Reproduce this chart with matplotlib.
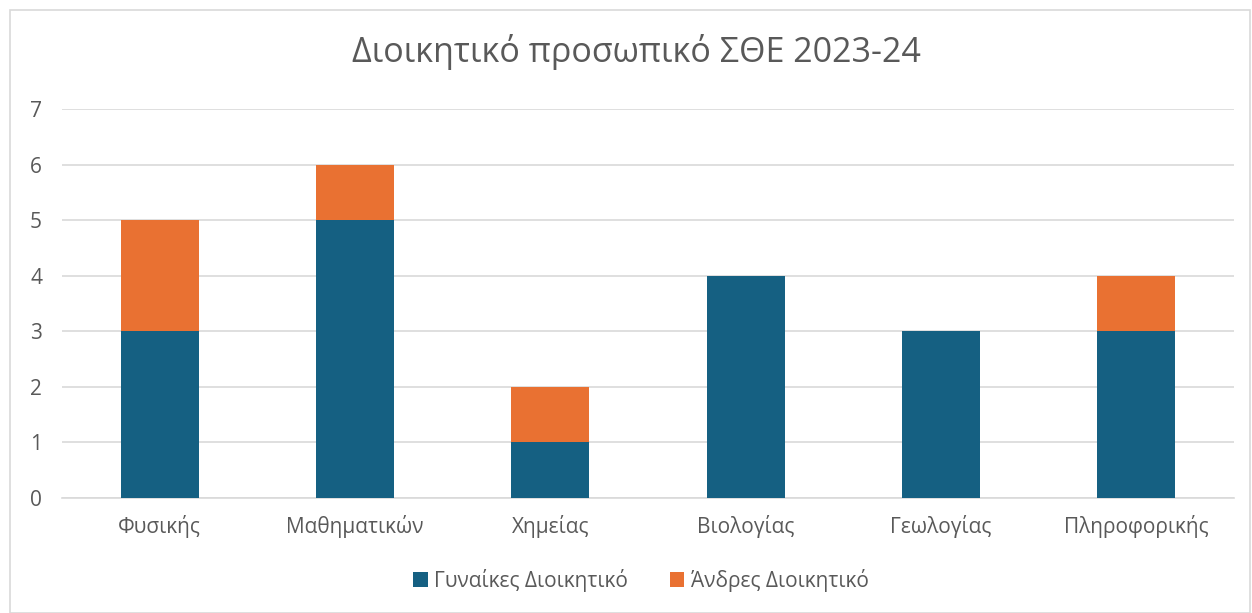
import matplotlib
matplotlib.use("Agg")
import matplotlib.pyplot as plt
from matplotlib.patches import Rectangle

categories = ["Φυσικής", "Μαθηματικών", "Χημείας", "Βιολογίας", "Γεωλογίας", "Πληροφορικής"]
women = [3, 5, 1, 4, 3, 3]
men = [2, 1, 1, 0, 0, 1]
series_names = ["Γυναίκες Διοικητικό", "Άνδρες Διοικητικό"]
title = "Διοικητικό προσωπικό ΣΘΕ 2023-24"

plt.rcParams['font.family'] = ['Open Sans', 'DejaVu Sans']
txt = '#595959'
blue = '#156082'
orange = '#E97132'

fig = plt.figure(figsize=(12.52, 6.13), dpi=100)
W, H = 1252, 613
ax = fig.add_axes([62/W, 1-498/H, (1234-62)/W, (498-109)/H])

x = list(range(len(categories)))
ax.bar(x, women, width=0.4, color=blue, label=series_names[0], zorder=3)
ax.bar(x, men, width=0.4, bottom=women, color=orange, label=series_names[1], zorder=3)

ax.set_xlim(-0.5, len(categories) - 0.5)
ax.set_ylim(0, 7)
ax.set_yticks(range(0, 8))
ax.set_xticks(x)
ax.set_xticklabels(categories)
ax.tick_params(axis='both', length=0, colors=txt, labelsize=15)
ax.tick_params(axis='x', pad=12)
ax.grid(axis='y', color='#D9D9D9', linewidth=1.2, zorder=0)
for s in ['top', 'right', 'left']:
    ax.spines[s].set_visible(False)
ax.spines['bottom'].set_color('#D9D9D9')
ax.spines['bottom'].set_linewidth(1.2)
for lbl in ax.get_yticklabels():
    lbl.set_horizontalalignment('left')
ax.tick_params(axis='y', pad=23)

fig.text(636/W, 1-52/H, title, ha='center', va='center', fontsize=24.5, color=txt)

leg = fig.legend(loc='center', bbox_to_anchor=(641/W, 1-580/H), ncol=2, frameon=False,
                 fontsize=15, handlelength=0.7, handleheight=0.7, handletextpad=0.3,
                 columnspacing=2.0, labelcolor=txt)

fig.add_artist(Rectangle((10/W, 0), (W-12)/W, 1-10/H, transform=fig.transFigure,
                         fill=False, edgecolor='#D9D9D9', linewidth=1.2))

fig.savefig("out.png", dpi=100)
